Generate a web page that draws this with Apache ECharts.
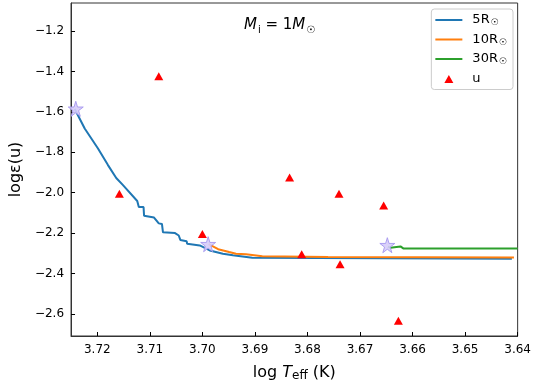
<!DOCTYPE html>
<html>
<head>
<meta charset="utf-8">
<script src="https://cdn.jsdelivr.net/npm/echarts@6/dist/echarts.min.js"></script>
<style>html,body{margin:0;padding:0;background:#fff}#c{width:534px;height:387px}</style>
</head>
<body>
<div id="c"></div>
<script>
// ---- data ----
const xTicks = [3.64, 3.65, 3.66, 3.67, 3.68, 3.69, 3.70, 3.71, 3.72];
const yTicks = [-2.6, -2.4, -2.2, -2.0, -1.8, -1.6, -1.4, -1.2];

const r5T = [3.7243,3.7224,3.7199,3.7180,3.7164,3.7152,3.7124,3.7121,3.7112,3.7111,3.7092,3.7083,3.7077,3.7075,3.7052,3.7045,3.7042,3.7030,3.7029,3.7005,3.6986,3.6961,3.6942,3.6905,3.6411];
const r5E = [-1.585,-1.682,-1.780,-1.862,-1.927,-1.960,-2.041,-2.071,-2.071,-2.114,-2.123,-2.152,-2.155,-2.196,-2.200,-2.212,-2.234,-2.240,-2.253,-2.261,-2.286,-2.302,-2.310,-2.322,-2.327];

const r10T = [3.6988,3.6970,3.6949,3.6936,3.6917,3.6886,3.6761,3.6407];
const r10E = [-2.255,-2.280,-2.294,-2.302,-2.305,-2.315,-2.319,-2.321];

const r30T = [3.6647,3.6642,3.6623,3.6617,3.6400];
const r30E = [-2.268,-2.273,-2.266,-2.277,-2.277];

const starT = [3.7241,3.6989,3.6648];
const starE = [-1.584,-2.255,-2.260];

const uT = [3.7083,3.7158,3.7000,3.6834,3.6811,3.6740,3.6738,3.6655,3.6627];
const uE = [-1.423,-2.005,-2.205,-1.925,-2.305,-2.005,-2.355,-2.063,-2.635];

const seriesNames = ['5R', '10R', '30R', 'u'];

// ---- build ----
const zip = (a, b) => a.map((v, i) => [v, b[i]]);
const starPath = 'path://M50,0 L61,35 L98,35 L68,57 L79,91 L50,70 L21,91 L32,57 L2,35 L39,35 Z';
const box = 'M0,0 L0.01,0 L0,0.01 Z M27,14 L26.99,14 L27,13.99 Z ';
const triIcon = 'path://' + box + 'M9,11.5 L13.5,3.5 L18,11.5 Z';
const lineIcon = 'path://' + box + 'M0,6 L27,6 L27,8 L0,8 Z';

const chart = echarts.init(document.getElementById('c'), null, {renderer: 'canvas'});
const font = 'DejaVu Sans';
chart.setOption({
  animation: false,
  backgroundColor: '#fff',
  textStyle: {fontFamily: font},
  title: {
    text: '{it|M}{sub|i}{n| = 1}{it|M}{sub|☉}',
    left: 239, top: 10,
    textStyle: {
      fontWeight: 'normal',
      rich: {
        it: {fontFamily: font, fontStyle: 'italic', fontWeight: 'normal', fontSize: 15, color: '#000'},
        n: {fontFamily: font, fontWeight: 'normal', fontSize: 15, color: '#000'},
        sub: {fontFamily: font, fontWeight: 'normal', fontSize: 10, color: '#000', padding: [10, 0, 0, 1]}
      }
    }
  },
  legend: {
    right: 21, top: 9,
    orient: 'vertical',
    itemWidth: 27, itemHeight: 14, itemGap: 5,
    padding: [4, 6, 4, 4],
    borderColor: '#ccc', borderWidth: 1, borderRadius: 3,
    backgroundColor: 'rgba(255,255,255,0.8)',
    data: [
      {name: seriesNames[0], icon: lineIcon}, {name: seriesNames[1], icon: lineIcon},
      {name: seriesNames[2], icon: lineIcon}, {name: seriesNames[3], icon: triIcon}
    ],
    formatter: function (n) { return n === 'u' ? '{a|u}' : '{a|' + n + '}{s|☉}'; },
    textStyle: {
      rich: {
        a: {fontFamily: font, fontSize: 13, color: '#000', padding: [0, 0, 0, 5]},
        s: {fontFamily: font, fontSize: 9, color: '#000', padding: [6, 0, 0, 1]}
      }
    }
  },
  grid: {left: 66, right: 15, top: 3, bottom: 47, show: true, borderColor: '#333', borderWidth: 1, containLabel: false},
  xAxis: {
    type: 'value', min: 3.64, max: 3.725, inverse: true,
    name: '{n|log }{it|T}{sub|eff}{n| (K)}', nameLocation: 'middle', nameGap: 27,
    nameTextStyle: {
      rich: {
        n: {fontFamily: font, fontSize: 16, color: '#000'},
        it: {fontFamily: font, fontSize: 16, fontStyle: 'italic', color: '#000'},
        sub: {fontFamily: font, fontSize: 12, color: '#000', padding: [7, 0, 0, 0]}
      }
    },
    axisLine: {show: true, lineStyle: {color: '#333', width: 1}},
    axisTick: {show: true, inside: true, length: 4, customValues: xTicks, lineStyle: {color: '#000'}},
    axisLabel: {customValues: xTicks, color: '#000', fontSize: 12, fontFamily: font, margin: 8,
      formatter: v => v.toFixed(2)},
    splitLine: {show: false}
  },
  yAxis: {
    type: 'value', min: -2.71, max: -1.06,
    name: 'logε(u)', nameLocation: 'middle', nameGap: 34,
    nameTextStyle: {fontFamily: font, fontSize: 16, color: '#000'},
    axisLine: {show: true, lineStyle: {color: '#333', width: 1}},
    axisTick: {show: true, inside: true, length: 4, customValues: yTicks, lineStyle: {color: '#000'}},
    axisLabel: {customValues: yTicks, color: '#000', fontSize: 12, fontFamily: font, margin: 7,
      formatter: v => v.toFixed(1).replace('-', '\u2212')},
    splitLine: {show: false}
  },
  series: [
    {name: seriesNames[0], type: 'line', data: zip(r5T, r5E), symbol: 'none', clip: true,
     lineStyle: {color: '#1f77b4', width: 2}, itemStyle: {color: '#1f77b4'}, z: 2},
    {name: seriesNames[1], type: 'line', data: zip(r10T, r10E), symbol: 'none', clip: true,
     lineStyle: {color: '#ff7f0e', width: 2}, itemStyle: {color: '#ff7f0e'}, z: 3},
    {name: seriesNames[2], type: 'line', data: zip(r30T, r30E), symbol: 'none', clip: true,
     lineStyle: {color: '#2ca02c', width: 2}, itemStyle: {color: '#2ca02c'}, z: 4},
    {name: seriesNames[3], type: 'scatter', data: zip(uT, uE), symbol: 'triangle', symbolSize: [9, 8],
     itemStyle: {color: '#ff0000', opacity: 1}, z: 5},
    {name: 'star', type: 'scatter', data: zip(starT, starE), symbol: starPath, symbolSize: 15,
     itemStyle: {color: '#d6ccfa', borderColor: '#a597ee', borderWidth: 1, opacity: 0.9}, z: 6}
  ]
});
</script>
</body>
</html>
